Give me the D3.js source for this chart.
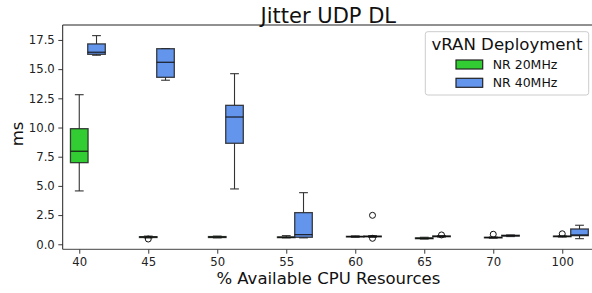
<!DOCTYPE html>
<html>
<head>
<meta charset="utf-8">
<script src="https://cdn.jsdelivr.net/npm/d3@7"></script>
<style>
  html, body { margin: 0; padding: 0; background: #fff; }
  svg { display: block; font-family: "DejaVu Sans", sans-serif; }
</style>
</head>
<body>
<svg id="chart" width="592" height="293"></svg>
<script>
// ---- data ----
const categories = ["40", "45", "50", "55", "60", "65", "70", "100"];
const seriesNames = ["NR 20MHz", "NR 40MHz"];
const seriesColors = ["#32CD32", "#6495ED"];
// [whisker low, Q1, median, Q3, whisker high]
const nr20Stats = [
  [4.57, 6.99, 7.97, 9.90, 12.81],
  [0.55, 0.58, 0.62, 0.65, 0.70],
  [0.55, 0.58, 0.62, 0.66, 0.70],
  [0.55, 0.57, 0.60, 0.63, 0.74],
  [0.60, 0.63, 0.66, 0.68, 0.72],
  [0.45, 0.48, 0.51, 0.55, 0.60],
  [0.52, 0.55, 0.58, 0.60, 0.62],
  [0.62, 0.65, 0.68, 0.70, 0.72]
];
const nr20Outliers = [[], [0.45], [], [], [], [], [0.86], [0.90]];
const nr40Stats = [
  [16.19, 16.27, 16.45, 17.16, 17.87],
  [14.05, 14.30, 15.59, 16.75, 16.75],
  [4.74, 8.65, 10.90, 11.90, 14.61],
  [0.55, 0.60, 0.82, 2.71, 4.42],
  [0.60, 0.64, 0.67, 0.70, 0.74],
  [0.62, 0.65, 0.68, 0.71, 0.74],
  [0.66, 0.70, 0.74, 0.77, 0.80],
  [0.48, 0.74, 0.80, 1.31, 1.63]
];
const nr40Outliers = [[], [], [], [], [2.48, 0.51], [0.80], [], []];
const yTicks = [0, 2.5, 5, 7.5, 10, 12.5, 15, 17.5];

(function () {
// ---- layout ----
const svg = d3.select("#chart");
const pLeft = 62.7, pRight = 594, pTop = 25, pBottom = 249.3;

const x = d3.scaleLinear().domain([-0.24, 7.46]).range([pLeft, pRight]);
const y = d3.scaleLinear().domain([-0.43, 18.78]).range([pBottom, pTop]);
const offsets = [0, 0.25];
const boxW = 0.255;

// axes
const yAxis = d3.axisLeft(y).tickValues(yTicks).tickFormat(d3.format(".1f")).tickSize(4.4).tickPadding(3.5);
const xAxis = d3.axisBottom(x).tickValues(d3.range(categories.length)).tickFormat(i => categories[i]).tickSize(4.4).tickPadding(3.5);

const gy = svg.append("g").attr("transform", `translate(${pLeft},0)`).call(yAxis);
const gx = svg.append("g").attr("transform", `translate(0,${pBottom})`).call(xAxis);
[gx, gy].forEach(g => {
  g.select(".domain").remove();
  g.selectAll(".tick line").attr("stroke", "#222").attr("stroke-width", 0.9);
  g.selectAll(".tick text").attr("fill", "#222").style("font-size", "11.7px").style("font-family", "DejaVu Sans");
});

// spines
const spines = svg.append("g").attr("stroke", "#222").attr("stroke-width", 1).attr("fill", "none");
spines.append("line").attr("x1", pLeft).attr("x2", pLeft).attr("y1", pTop).attr("y2", pBottom);
spines.append("line").attr("x1", pLeft).attr("x2", pRight).attr("y1", pTop).attr("y2", pTop);
spines.append("line").attr("x1", pLeft).attr("x2", pRight).attr("y1", pBottom).attr("y2", pBottom).attr("stroke", "#444");

// boxes
const allStats = [nr20Stats, nr40Stats];
const allOut = [nr20Outliers, nr40Outliers];
const plot = svg.append("g");
allStats.forEach((stats, s) => {
  stats.forEach((st, i) => {
    const cx = x(i + offsets[s]);
    const hw = (x(boxW) - x(0)) / 2;
    const capHw = hw / 2;
    const [lo, q1, med, q3, hi] = st;
    const g = plot.append("g");
    g.append("line").attr("x1", cx).attr("x2", cx).attr("y1", y(q3)).attr("y2", y(hi)).attr("stroke", "#333").attr("stroke-width", 1.1);
    g.append("line").attr("x1", cx).attr("x2", cx).attr("y1", y(q1)).attr("y2", y(lo)).attr("stroke", "#333").attr("stroke-width", 1.1);
    g.append("line").attr("x1", cx - capHw).attr("x2", cx + capHw).attr("y1", y(hi)).attr("y2", y(hi)).attr("stroke", "#333").attr("stroke-width", 1.1);
    g.append("line").attr("x1", cx - capHw).attr("x2", cx + capHw).attr("y1", y(lo)).attr("y2", y(lo)).attr("stroke", "#333").attr("stroke-width", 1.1);
    g.append("rect").attr("x", cx - hw).attr("width", 2 * hw)
      .attr("y", y(q3)).attr("height", Math.max(0.01, y(q1) - y(q3)))
      .attr("fill", seriesColors[s]).attr("stroke", "#222").attr("stroke-opacity", 0.85).attr("stroke-width", 1.3);
    g.append("line").attr("x1", cx - hw).attr("x2", cx + hw).attr("y1", y(med)).attr("y2", y(med)).attr("stroke", "#111").attr("stroke-width", 1.1);
    allOut[s][i].forEach(v => {
      g.append("circle").attr("cx", cx).attr("cy", y(v)).attr("r", 3)
        .attr("fill", "none").attr("stroke", "#111").attr("stroke-width", 1);
    });
  });
});

// title and labels
svg.append("text").attr("x", (pLeft + pRight) / 2).attr("y", 22.5).attr("text-anchor", "middle")
  .style("font-size", "21px").attr("fill", "#111").text("Jitter UDP DL");
svg.append("text").attr("x", (pLeft + pRight) / 2).attr("y", 284.3).attr("text-anchor", "middle")
  .style("font-size", "16.5px").attr("fill", "#111").text("% Available CPU Resources");
svg.append("text").attr("transform", `translate(23.3,134) rotate(-90)`).attr("text-anchor", "middle")
  .style("font-size", "16.5px").attr("fill", "#111").text("ms");

// legend
const lg = svg.append("g");
lg.append("rect").attr("x", 425.3).attr("y", 31.7).attr("width", 163.4).attr("height", 63.3).attr("rx", 2.5)
  .attr("fill", "#fff").attr("fill-opacity", 0.8).attr("stroke", "#ccc").attr("stroke-width", 1);
lg.append("text").attr("x", 507).attr("y", 50).attr("text-anchor", "middle").style("font-size", "16.6px").attr("fill", "#111").text("vRAN Deployment");
seriesNames.forEach((name, k) => {
  const yy = 60 + k * 18.3;
  lg.append("rect").attr("x", 456).attr("y", yy).attr("width", 26.7).attr("height", 9)
    .attr("fill", seriesColors[k]).attr("stroke", "#222").attr("stroke-width", 1.2);
  lg.append("text").attr("x", 492.7).attr("y", yy + 9).style("font-size", "12.5px").attr("fill", "#111").text(name);
});
})();
</script>
</body>
</html>
